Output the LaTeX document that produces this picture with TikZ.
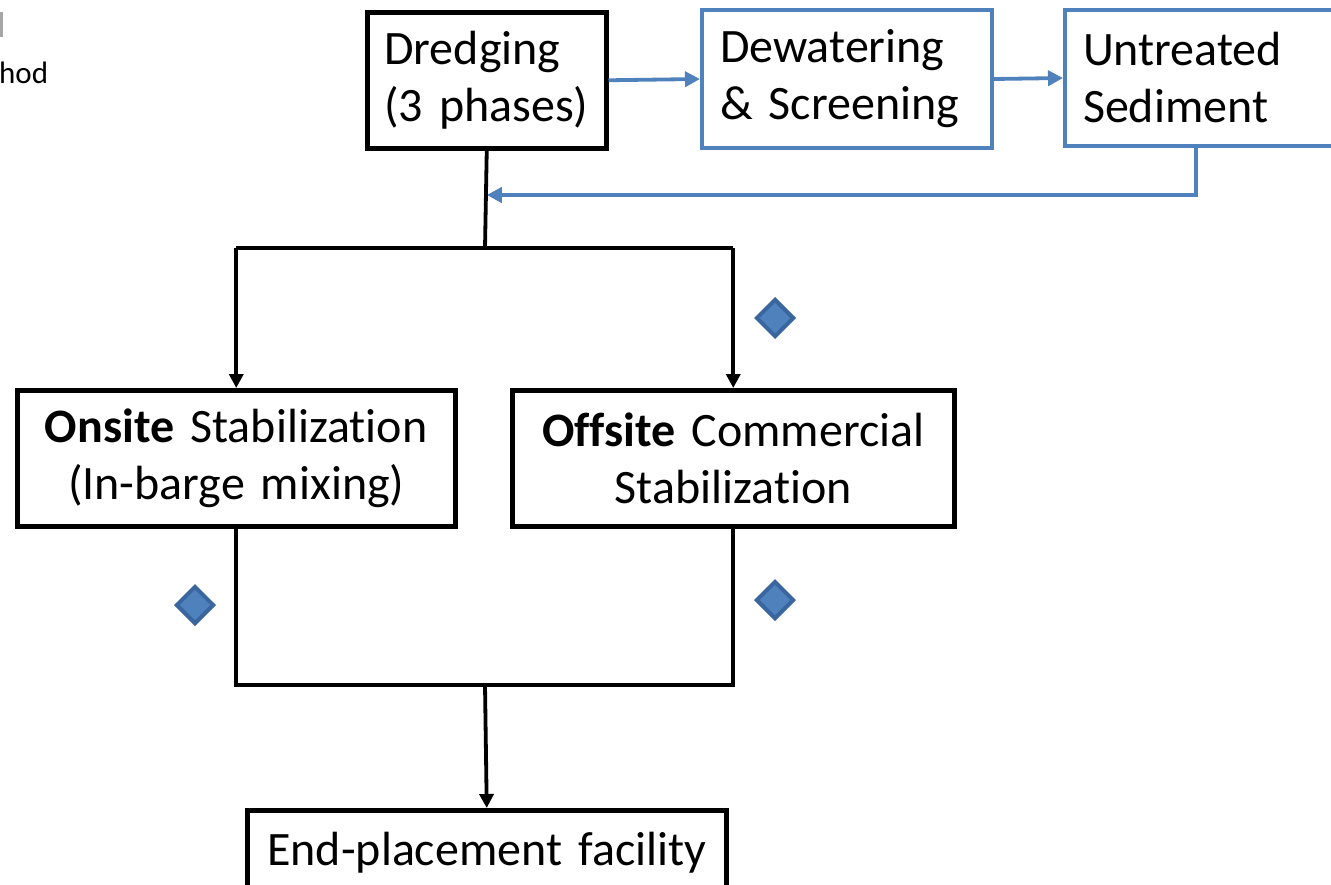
\documentclass[tikz,border=0pt]{standalone}
\usepackage{fontspec}
\setmainfont[Ligatures=NoCommon]{Carlito}
\usetikzlibrary{arrows.meta,shapes.geometric}
\definecolor{bblue}{HTML}{4F81BD}
\definecolor{dblue}{HTML}{3A66A0}
\tikzset{
  blkbox/.style={draw=black,line width=4.5pt,fill=white,anchor=north west,inner xsep=17pt,inner ysep=0pt,font=\fontsize{48}{57}\selectfont},
  bluebox/.style={draw=bblue,line width=4pt,fill=white,anchor=north west,inner xsep=18pt,inner ysep=0pt,font=\fontsize{48}{57}\selectfont},
  bline/.style={draw=black,line width=3.8pt},
  barrow/.style={draw=black,line width=3.8pt,-{Triangle[length=14pt,width=14pt]}},
  blarrow/.style={draw=bblue,line width=3.8pt,-{Triangle[length=15pt,width=15pt]}},
  mark diamond/.style={diamond,draw=dblue,fill=bblue,line width=4pt,minimum width=38pt,minimum height=38pt,inner sep=0pt}
}
\begin{document}
\begin{tikzpicture}[x=1pt,y=-1pt]
\useasboundingbox (0,0) rectangle (1331,884);
\clip (0,0) rectangle (1331,884);
\fill[white] (0,0) rectangle (1331,884);
% cropped text at top-left
\fill[gray!70] (0,12) rectangle (2.5,37);
\node[anchor=west,inner sep=0pt,font=\fontsize{31}{36}\selectfont] (hod) at (-1,73) {hod};
% boxes
\node[blkbox,minimum width=239pt,minimum height=136pt,text width=205pt,align=left] (dredge) at (365,10) {Dredging\\(3 phases)};
\node[bluebox,minimum width=290pt,minimum height=138pt,text width=254pt,align=left] (dewater) at (700,8) {Dewatering\\\&\ Screening};
\node[bluebox,minimum width=270pt,minimum height=136pt,text width=234pt,align=left] (untreated) at (1063,8) {Untreated\\Sediment};
\node[blkbox,minimum width=438pt,minimum height=136pt,text width=404pt,align=center] (onsite) at (15,388) {\textbf{Onsite} Stabilization\\(In-barge mixing)};
\node[blkbox,minimum width=442pt,minimum height=136pt,text width=408pt,align=center] (offsite) at (510,388) {\textbf{Offsite} Commercial\\Stabilization};
\node[blkbox,minimum width=479pt,minimum height=84pt,text width=445pt,align=center,anchor=north west] (endp) at (245,808) {End-placement facility};
% coordinates
\coordinate (split) at (485,248);
\coordinate (ret) at (1196,195);
\coordinate (join) at (485,685);
% blue flow
\draw[blarrow] (dredge.east) -- (dewater.west);
\draw[blarrow] (dewater.east) -- (untreated.west);
\draw[blarrow] (untreated.south -| ret) -- (ret) -- (ret -| dredge.south);
% black flow
\draw[bline] (dredge.south) -- (split);
\draw[bline] (split -| onsite.north) -- (split -| offsite.north);
\draw[barrow] (split -| onsite.north) -- (onsite.north);
\draw[barrow] (split -| offsite.north) -- (offsite.north);
\draw[bline] (onsite.south) -- (join -| onsite.south) -- (join -| offsite.south) -- (offsite.south);
\draw[barrow] (join) -- (endp.north);
% diamonds
\node[mark diamond] (d1) at (775,318) {};
\node[mark diamond] (d2) at (195,605) {};
\node[mark diamond] (d3) at (775,600) {};
\end{tikzpicture}
\end{document}
